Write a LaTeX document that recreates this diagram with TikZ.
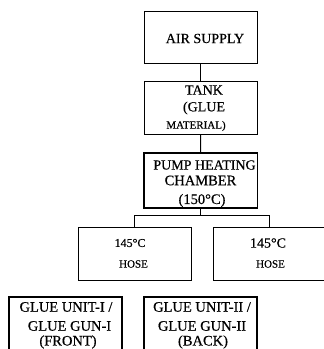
\documentclass[tikz,border=0pt]{standalone}
\usepackage{fontspec}
\setmainfont{Liberation Serif}[FakeBold=0.5]
\begin{document}
\begin{tikzpicture}[x=1pt,y=-1pt,
  box/.style={draw, line width=1pt, inner sep=0pt, minimum width=113pt},
  thickbox/.style={box, line width=1.4pt},
  lbl/.style={inner sep=0pt, anchor=center},
  big/.style={font=\fontsize{14}{16}\selectfont},
  bigger/.style={font=\fontsize{14.5}{16}\selectfont},
  mid/.style={font=\fontsize{12}{14}\selectfont},
  small/.style={font=\fontsize{11}{13}\selectfont},
  wire/.style={draw, line width=1pt}]
\useasboundingbox (0,0) rectangle (324,349);
% boxes
\node[box, minimum height=52pt] (air) at (200.5,37) {};
\node[box, minimum height=53pt] (tank) at (200.5,107.5) {};
\node[thickbox, minimum width=113.5pt, minimum height=55pt] (pump) at (200.75,180.5) {};
\node[box, minimum height=53pt] (hose1) at (134.5,253.5) {};
\node[box, minimum height=53pt] (hose2) at (269.5,253.5) {};
\node[thickbox, minimum height=63pt] (glue1) at (65.5,328.5) {};
\node[thickbox, minimum height=63pt] (glue2) at (200.5,328.5) {};
% texts
\node[lbl, big] (tair) at (205,38.5) {AIR SUPPLY};
\node[lbl, big] (ttank1) at (204,90) {TANK};
\node[lbl, big] (ttank2) at (204,108) {(GLUE};
\node[lbl, small] (ttank3) at (196,126) {MATERIAL)};
\node[lbl, big] (tpump1) at (204.5,165) {PUMP HEATING};
\node[lbl, bigger] (tpump2) at (200.5,180.5) {CHAMBER};
\node[lbl, bigger] (tpump3) at (202,200.5) {(150°C)};
\node[lbl, mid] (th1a) at (130,243) {145°C};
\node[lbl, small] (th1b) at (133.5,264) {HOSE};
\node[lbl, big] (th2a) at (268,243) {145°C};
\node[lbl, small] (th2b) at (270.5,264) {HOSE};
\node[lbl, bigger] (tg1a) at (66,307) {GLUE UNIT-I /};
\node[lbl, bigger] (tg1b) at (69.5,326) {GLUE GUN-I};
\node[lbl, bigger] (tg1c) at (68,342) {(FRONT)};
\node[lbl, bigger] (tg2a) at (202,307) {GLUE UNIT-II /};
\node[lbl, bigger] (tg2b) at (202,326) {GLUE GUN-II};
\node[lbl, bigger] (tg2c) at (203,342) {(BACK)};
% connectors
\path[wire] (air.south) -- (tank.north);
\path[wire] (tank.south) -- (pump.north);
\coordinate (j) at (200.75,215.7);
\path[wire] (pump.south) -- (j);
\path[wire] (hose1.north) |- (j) -| (hose2.north);
\end{tikzpicture}
\end{document}
